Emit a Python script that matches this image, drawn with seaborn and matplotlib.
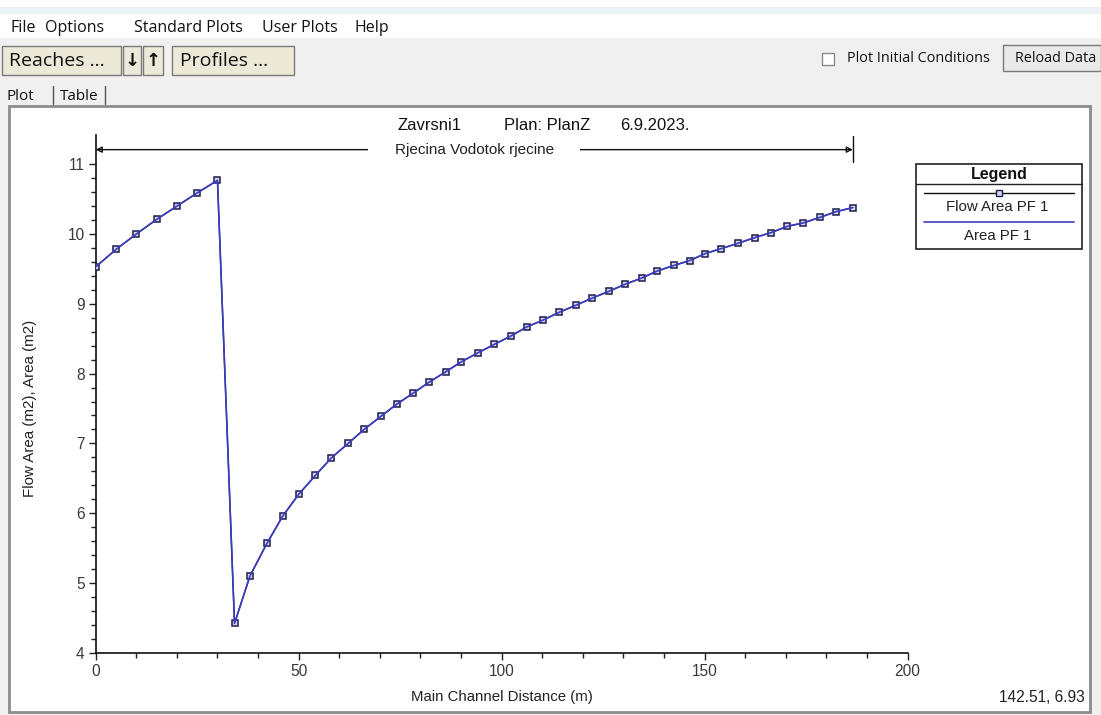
import numpy as np
import pandas as pd
import matplotlib
matplotlib.use("Agg")
import matplotlib.pyplot as plt
from matplotlib.patches import Rectangle
from matplotlib.lines import Line2D
import seaborn as sns

# ---------------- data ----------------
upstream_dist = [0, 5, 10, 15, 20, 25, 30]
upstream_area = [9.53, 9.78, 10.00, 10.21, 10.40, 10.59, 10.77]
downstream_dist = [34.2, 38.0, 42.2, 46.1, 50.0, 54.1, 58.0, 62.2, 66.1, 70.3,
                   74.1, 78.2, 82.2, 86.3, 90.1, 94.2, 98.2, 102.3, 106.2, 110.3,
                   114.2, 118.3, 122.2, 126.4, 130.4, 134.5, 138.3, 142.4, 146.3, 150.1,
                   154.0, 158.3, 162.4, 166.3, 170.3, 174.3, 178.4, 182.3, 186.5]
downstream_area = [4.42, 5.10, 5.57, 5.96, 6.27, 6.54, 6.79, 7.00, 7.20, 7.39,
                   7.56, 7.72, 7.88, 8.03, 8.17, 8.30, 8.42, 8.54, 8.67, 8.77,
                   8.88, 8.98, 9.08, 9.18, 9.28, 9.37, 9.47, 9.55, 9.62, 9.72,
                   9.79, 9.87, 9.95, 10.02, 10.11, 10.16, 10.24, 10.32, 10.38]
series_names = ["Flow Area PF 1", "Area PF 1"]
reach_label = "Rjecina Vodotok rjecine"
title_parts = ["Zavrsni1", "Plan: PlanZ", "6.9.2023."]
x_ticks = [0, 50, 100, 150, 200]
y_ticks = [4, 5, 6, 7, 8, 9, 10, 11]
menu_items = ["File", "Options", "Standard Plots", "User Plots", "Help"]

dist = upstream_dist + downstream_dist
area = upstream_area + downstream_area
df = pd.DataFrame({"dist": dist, "flow_area": area, "area": area})

# ---------------- style ----------------
sns.set_theme(style="ticks")
plt.rcParams['font.family'] = ['Liberation Sans', 'DejaVu Sans']

W, H = 1101, 715
fig = plt.figure(figsize=(W / 100, H / 100), dpi=100)
fig.patch.set_facecolor("#f0f0f0")

def fx(x):
    return x / W

def fy(y):
    return 1 - y / H

BG_Z = -5

# ---------------- window chrome ----------------
fig.patches.append(Rectangle((0, fy(38)), 1, fy(0) - fy(38), transform=fig.transFigure,
                             facecolor="white", edgecolor="none", zorder=BG_Z))
fig.patches.append(Rectangle((0, fy(14)), 1, fy(7) - fy(14), transform=fig.transFigure,
                             facecolor="#eaf2f5", edgecolor="none", zorder=BG_Z))
ui_font = ['Open Sans', 'DejaVu Sans']
mx = [10, 45, 134, 262, 355]
for m, x0 in zip(menu_items, mx):
    fig.text(fx(x0), fy(28), m, fontsize=11.5, family=ui_font, va="center", ha="left", color="#111111")

def button(x0, x1, y0, y1, label, fs=14, color="#ece9d8", ha="left", tx=None, weight="normal"):
    fig.patches.append(Rectangle((fx(x0), fy(y1)), fx(x1) - fx(x0), fy(y0) - fy(y1),
                                 transform=fig.transFigure, facecolor=color,
                                 edgecolor="#7a7a7a", lw=1.0, zorder=BG_Z + 1))
    if tx is None:
        tx = x0 + 7
    fig.text(fx(tx), fy((y0 + y1) / 2), label, fontsize=fs, family=ui_font,
             va="center", ha=ha, color="#111111", weight=weight)

button(2, 121, 46, 75, "Reaches ...")
button(123, 141, 46, 75, "↓", fs=13, ha="center", tx=132, weight="bold")
button(143, 163, 46, 75, "↑", fs=13, ha="center", tx=153, weight="bold")
button(172, 294, 46, 75, "Profiles ...", tx=180)
button(1003, 1101, 45, 71, "Reload Data", fs=10.4, color="#e9e9e9", tx=1015)
fig.patches.append(Rectangle((fx(822), fy(65)), fx(12), fy(0) - fy(12), transform=fig.transFigure,
                             facecolor="white", edgecolor="#8a8a8a", lw=1.0, zorder=BG_Z + 1))
fig.text(fx(847), fy(58), "Plot Initial Conditions", fontsize=10.4, family=ui_font,
         va="center", ha="left", color="#111111")
fig.text(fx(7), fy(96), "Plot", fontsize=11, family=ui_font, va="center", ha="left", color="#111111")
fig.add_artist(Line2D([fx(53), fx(53)], [fy(86), fy(104)], color="#555555", lw=1))
fig.text(fx(60), fy(96), "Table", fontsize=11, family=ui_font, va="center", ha="left", color="#111111")
fig.add_artist(Line2D([fx(105), fx(105)], [fy(86), fy(104)], color="#555555", lw=1))

# plot panel
fig.patches.append(Rectangle((fx(9), fy(712)), fx(1090) - fx(9), fy(106) - fy(712),
                             transform=fig.transFigure, facecolor="white",
                             edgecolor="#8c8c8c", lw=2.0, zorder=BG_Z))

# ---------------- axes ----------------
ax = fig.add_axes([0.0869, 0.0871, 0.7375, 0.7241])
ax.set_facecolor("none")
ax.set_zorder(1)

sns.lineplot(data=df, x="dist", y="flow_area", ax=ax, sort=False, estimator=None,
             color="#1a1a4a", lw=1.0, marker="s", markersize=4.8,
             markerfacecolor="#d6d6ee", markeredgecolor="#1c1c50", markeredgewidth=1.1,
             zorder=3)
sns.lineplot(data=df, x="dist", y="area", ax=ax, sort=False, estimator=None,
             color="#3c3cc0", lw=1.2, zorder=4)

ax.set_xlim(0, 200)
ax.set_ylim(4, 11.42)
ax.set_xticks(x_ticks)
ax.set_yticks(y_ticks)
ax.set_xticks(np.arange(0, 201, 10), minor=True)
ax.set_yticks(np.arange(4, 11.01, 0.2), minor=True)
for s in ["top", "right"]:
    ax.spines[s].set_visible(False)
for s in ["left", "bottom"]:
    ax.spines[s].set_color("#111111")
    ax.spines[s].set_linewidth(1.2)
ax.tick_params(axis="both", which="major", direction="out", length=5, width=1.0,
               color="#222222", labelsize=11.2, labelcolor="#3a3a3a", pad=3)
ax.tick_params(axis="both", which="minor", direction="out", length=3.5, width=1.0, color="#222222")
ax.set_xlabel("")
ax.set_ylabel("")

fig.text(fx(502), fy(697), "Main Channel Distance (m)", fontsize=10.8, ha="center", va="center", color="#222222")
fig.text(fx(30), fy(408), "Flow Area (m2), Area (m2)", fontsize=10.9, ha="center", va="center",
         rotation=90, color="#222222")
fig.text(fx(1085), fy(697), "142.51, 6.93", fontsize=11.2, ha="right", va="center", color="#222222")

# title
for t, x0 in zip(title_parts, [397, 504, 620]):
    fig.text(fx(x0), fy(126), t, fontsize=12, ha="left", va="center", color="#111111")

# reach annotation arrow
x_start, x_end = dist[0], dist[-1]
y_arrow = 11.21
ax.annotate("", xy=(x_start, y_arrow), xytext=(x_end, y_arrow),
            arrowprops=dict(arrowstyle="<|-|>", color="#111111", lw=1.0,
                            mutation_scale=9, shrinkA=0, shrinkB=0, fill=False),
            annotation_clip=False)
ax.plot([x_end, x_end], [11.03, 11.41], color="#111111", lw=1.0, clip_on=False)
ax.text((x_start + x_end) / 2, y_arrow, reach_label, ha="center", va="center", fontsize=11,
        color="#222222", bbox=dict(facecolor="white", edgecolor="none", pad=19), zorder=5)

# legend (custom HEC-RAS style)
lx0, lx1, ly0, ly1 = 916, 1082, 164, 249
fig.patches.append(Rectangle((fx(lx0), fy(ly1)), fx(lx1) - fx(lx0), fy(ly0) - fy(ly1),
                             transform=fig.transFigure, facecolor="white",
                             edgecolor="#222222", lw=1.2, zorder=5))
fig.add_artist(Line2D([fx(lx0), fx(lx1)], [fy(184), fy(184)], color="#222222", lw=1.0, zorder=6))
fig.text(fx(999), fy(174), "Legend", fontsize=11.5, weight="bold", ha="center", va="center",
         color="#111111", zorder=6)
fig.add_artist(Line2D([fx(924), fx(1074)], [fy(192.5), fy(192.5)], color="#111111", lw=1.0, zorder=6))
fig.add_artist(Line2D([fx(999)], [fy(192.5)], marker="s", markersize=4.2, markerfacecolor="#d6d6ee",
                      markeredgecolor="#1c1c50", markeredgewidth=1.0, lw=0, zorder=7))
fig.text(fx(997), fy(207), series_names[0], fontsize=10.8, ha="center", va="center",
         color="#222222", zorder=6)
fig.add_artist(Line2D([fx(924), fx(1074)], [fy(221.5), fy(221.5)], color="#3c3cc0", lw=1.2, zorder=6))
fig.text(fx(998), fy(236), series_names[1], fontsize=10.8, ha="center", va="center",
         color="#222222", zorder=6)

fig.savefig("out.png", dpi=100, facecolor=fig.get_facecolor())
